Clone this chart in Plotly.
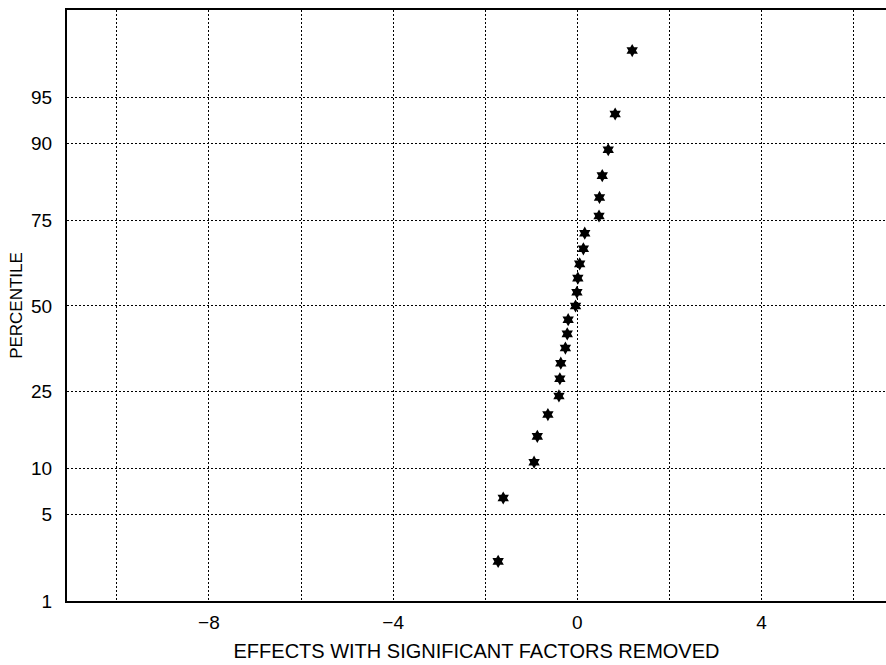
from statistics import NormalDist
import plotly.graph_objects as go

# Data
effects = [-1.72, -1.61, -0.94, -0.87, -0.64, -0.40, -0.38, -0.36, -0.26, -0.22, -0.20,
           -0.04, -0.01, 0.01, 0.05, 0.13, 0.16, 0.47, 0.48, 0.54, 0.67, 0.82, 1.19]
percentiles = [2.2, 6.5, 10.9, 15.2, 19.6, 23.9, 28.3, 32.6, 37.0, 41.3, 45.7,
               50.0, 54.3, 58.7, 63.0, 67.4, 71.7, 76.1, 80.4, 84.8, 89.1, 93.5, 97.8]
y_tick_pct = [1, 5, 10, 25, 50, 75, 90, 95]
x_tick_vals = [-10, -8, -6, -4, -2, 0, 2, 4, 6]
x_tick_text = ["", "\u22128", "", "\u22124", "", "0", "", "4", ""]

nd = NormalDist()
z = [nd.inv_cdf(p / 100) for p in percentiles]
yticks = [nd.inv_cdf(p / 100) for p in y_tick_pct]

FONT = "Liberation Sans, Arial, sans-serif"

fig = go.Figure()
fig.add_trace(go.Scatter(
    x=effects, y=z, mode="markers",
    marker=dict(symbol="hexagram", size=10, color="black", line=dict(width=0)),
    showlegend=False, hoverinfo="skip",
))

fig.update_layout(
    width=886, height=665,
    margin=dict(l=67, r=0, t=10, b=64),
    paper_bgcolor="white", plot_bgcolor="white",
    font=dict(family=FONT, size=18, color="black"),
    xaxis=dict(
        range=[-11.08, 6.70],
        tickvals=x_tick_vals, ticktext=x_tick_text,
        showgrid=True, gridcolor="black", griddash="2px,2px", gridwidth=1,
        zeroline=False,
        showline=True, linecolor="black", linewidth=2, mirror=True,
        ticks="", ticklabelstandoff=3,
        tickfont=dict(size=19),
        title=dict(text="EFFECTS WITH SIGNIFICANT FACTORS REMOVED", standoff=12,
                   font=dict(size=20)),
    ),
    yaxis=dict(
        range=[nd.inv_cdf(0.01), 2.334],
        tickvals=yticks, ticktext=[str(p) for p in y_tick_pct],
        showgrid=True, gridcolor="black", griddash="2px,2px", gridwidth=1,
        zeroline=False,
        showline=True, linecolor="black", linewidth=2, mirror=False,
        ticks="", ticklabelstandoff=9,
        tickfont=dict(size=19),
        title=dict(text="PERCENTILE", standoff=4, font=dict(size=17)),
    ),
)

fig.write_html("out.html")
